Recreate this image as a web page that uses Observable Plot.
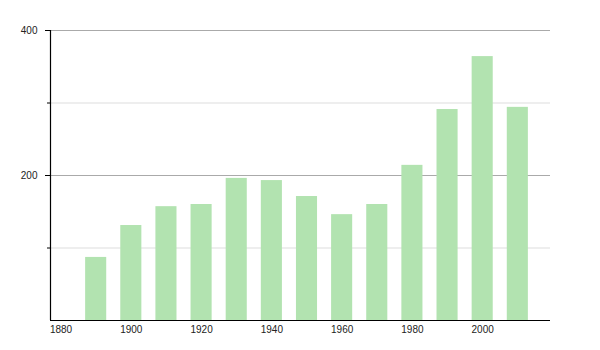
<!DOCTYPE html>
<html>
<head>
<meta charset="utf-8">
<script src="https://cdn.jsdelivr.net/npm/d3@7"></script>
<script src="https://cdn.jsdelivr.net/npm/@observablehq/plot@0.6"></script>
<style>
  html, body { margin: 0; padding: 0; background: #fff; }
  #chart svg { display: block; }
</style>
</head>
<body>
<div id="chart"></div>
<script>
const years = [1890, 1900, 1910, 1920, 1930, 1940, 1950, 1960, 1970, 1980, 1990, 2000, 2010];
const values = [87, 131, 157, 160, 196, 193, 171, 146, 160, 214, 291, 364, 294];
const xTicks = [1880, 1900, 1920, 1940, 1960, 1980, 2000];
const yMajorTicks = [200, 400];
const yMinorTicks = [100, 300];

const data = years.map((year, i) => ({ year, value: values[i] }));
const barHalfWidth = 3;
const xDomain = [1877, 2019.3];

const chart = Plot.plot({
  width: 600,
  height: 350,
  marginLeft: 50,
  marginRight: 50,
  marginTop: 30,
  marginBottom: 30,
  style: { fontFamily: "'Liberation Sans', Arial, Helvetica, sans-serif", fontSize: "10px", color: "#222", background: "#fff" },
  x: { domain: xDomain },
  y: { domain: [0, 400] },
  marks: [
    Plot.ruleY(yMinorTicks, { stroke: "#dddddd", strokeWidth: 1 }),
    Plot.ruleY(yMajorTicks, { stroke: "#aaaaaa", strokeWidth: 1 }),
    Plot.rectY(data, {
      x1: d => d.year - barHalfWidth,
      x2: d => d.year + barHalfWidth,
      y: "value",
      fill: "#b2e3b0"
    }),
    Plot.axisY(yMajorTicks, { tickSize: 5, tickPadding: 8, stroke: "#000", label: null }),
    Plot.axisY(yMinorTicks, { tickSize: 3, text: null, stroke: "#000", label: null }),
    Plot.axisX(xTicks, { tickSize: 0, tickPadding: 5, tickFormat: d => String(d), label: null }),
    Plot.ruleX([xDomain[0]], { stroke: "#000", strokeWidth: 1.2 }),
    Plot.ruleY([0], { stroke: "#000", strokeWidth: 1.2 })
  ]
});
document.getElementById("chart").append(chart);
</script>
</body>
</html>
